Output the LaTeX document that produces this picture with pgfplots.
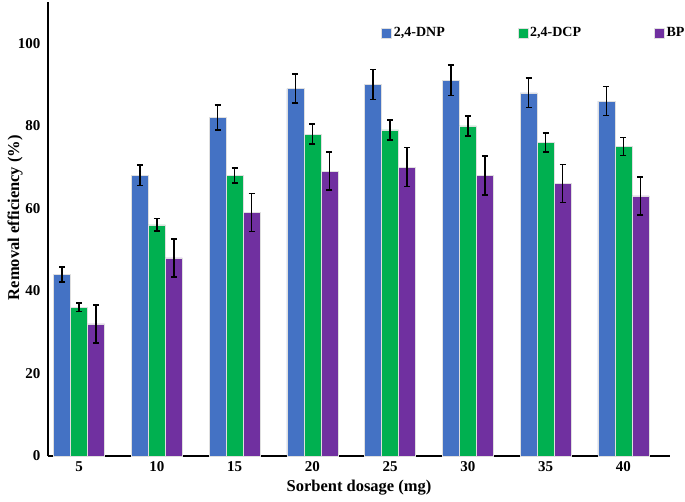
\documentclass[border=0pt]{standalone}
\usepackage{pgfplots}
\pgfplotsset{compat=1.18}
\usepackage{pgfplotstable}
\usepackage{fontspec}
\setmainfont{Liberation Serif}
\definecolor{dnpblue}{HTML}{4472C4}
\definecolor{dcpgreen}{HTML}{00B050}
\definecolor{bppurple}{HTML}{7030A0}

% dosage index, mean and error for each phenol
\pgfplotstableread{
x dnp dnpe dcp dcpe bp bpe
0 44 1.8 36 1.0 32 4.6
1 68 2.5 56 1.5 48 4.6
2 82 3.0 68 1.8 59 4.6
3 89 3.5 78 2.4 69 4.6
4 90 3.6 79 2.4 70 4.7
5 91 3.7 80 2.4 68 4.7
6 88 3.6 76 2.3 66 4.6
7 86 3.5 75 2.2 63 4.6
}\datatable

\begin{document}
\begin{tikzpicture}
\begin{axis}[
  scale only axis,
  width=622pt, height=454pt,
  ybar=0pt, bar width=17pt,
  ymin=0, ymax=110,
  xmin=-0.4, xmax=7.6,
  axis x line*=bottom, axis y line*=left,
  axis line style={line width=2.6pt},
  major tick length=0pt,
  ytick={0,20,...,100},
  xtick=data,
  xticklabels={5,10,15,20,25,30,35,40},
  ticklabel style={font=\fontsize{15}{17}\selectfont\bfseries},
  /pgf/number format/assume math mode=true,
  yticklabel style={xshift=-4pt},
  xticklabel style={yshift=-2pt},
  xlabel={Sorbent dosage (mg)},
  ylabel={Removal efficiency (\%)},
  label style={font=\fontsize{16.5}{19}\selectfont\bfseries},
  xlabel style={at={(axis description cs:0.5,0)}, anchor=center, yshift=-32pt},
  ylabel style={at={(axis description cs:-0.053,0.525)}, anchor=center},
  every axis plot/.append style={draw=white!75!gray, line width=0.4pt},
  error bars/error bar style={black, line width=1.6pt},
  error bars/error mark options={rotate=90, black, line width=1.6pt, mark size=3pt},
  legend style={at={(rel axis cs:0.531,0.932)}, anchor=west, draw=none, fill=none,
    legend columns=3, font=\fontsize{14}{16}\selectfont\bfseries,
    /tikz/every even column/.append style={column sep=71pt}},
  legend image code/.code={\fill[#1] (0pt,-5pt) rectangle (10pt,5pt);},
  legend cell align=left,
]
\addplot[fill=dnpblue, error bars/.cd, y dir=both, y explicit]
  table[x=x, y=dnp, y error=dnpe] {\datatable};
\addplot[fill=dcpgreen, error bars/.cd, y dir=both, y explicit]
  table[x=x, y=dcp, y error=dcpe] {\datatable};
\addplot[fill=bppurple, error bars/.cd, y dir=both, y explicit]
  table[x=x, y=bp, y error=bpe] {\datatable};
\legend{2{,}4-DNP, 2{,}4-DCP, BP}
\end{axis}
\pgfresetboundingbox
\path ([shift={(-48pt,-45pt)}]current axis.south west)
  rectangle ([shift={(15pt,2pt)}]current axis.north east);
\end{tikzpicture}
\end{document}
